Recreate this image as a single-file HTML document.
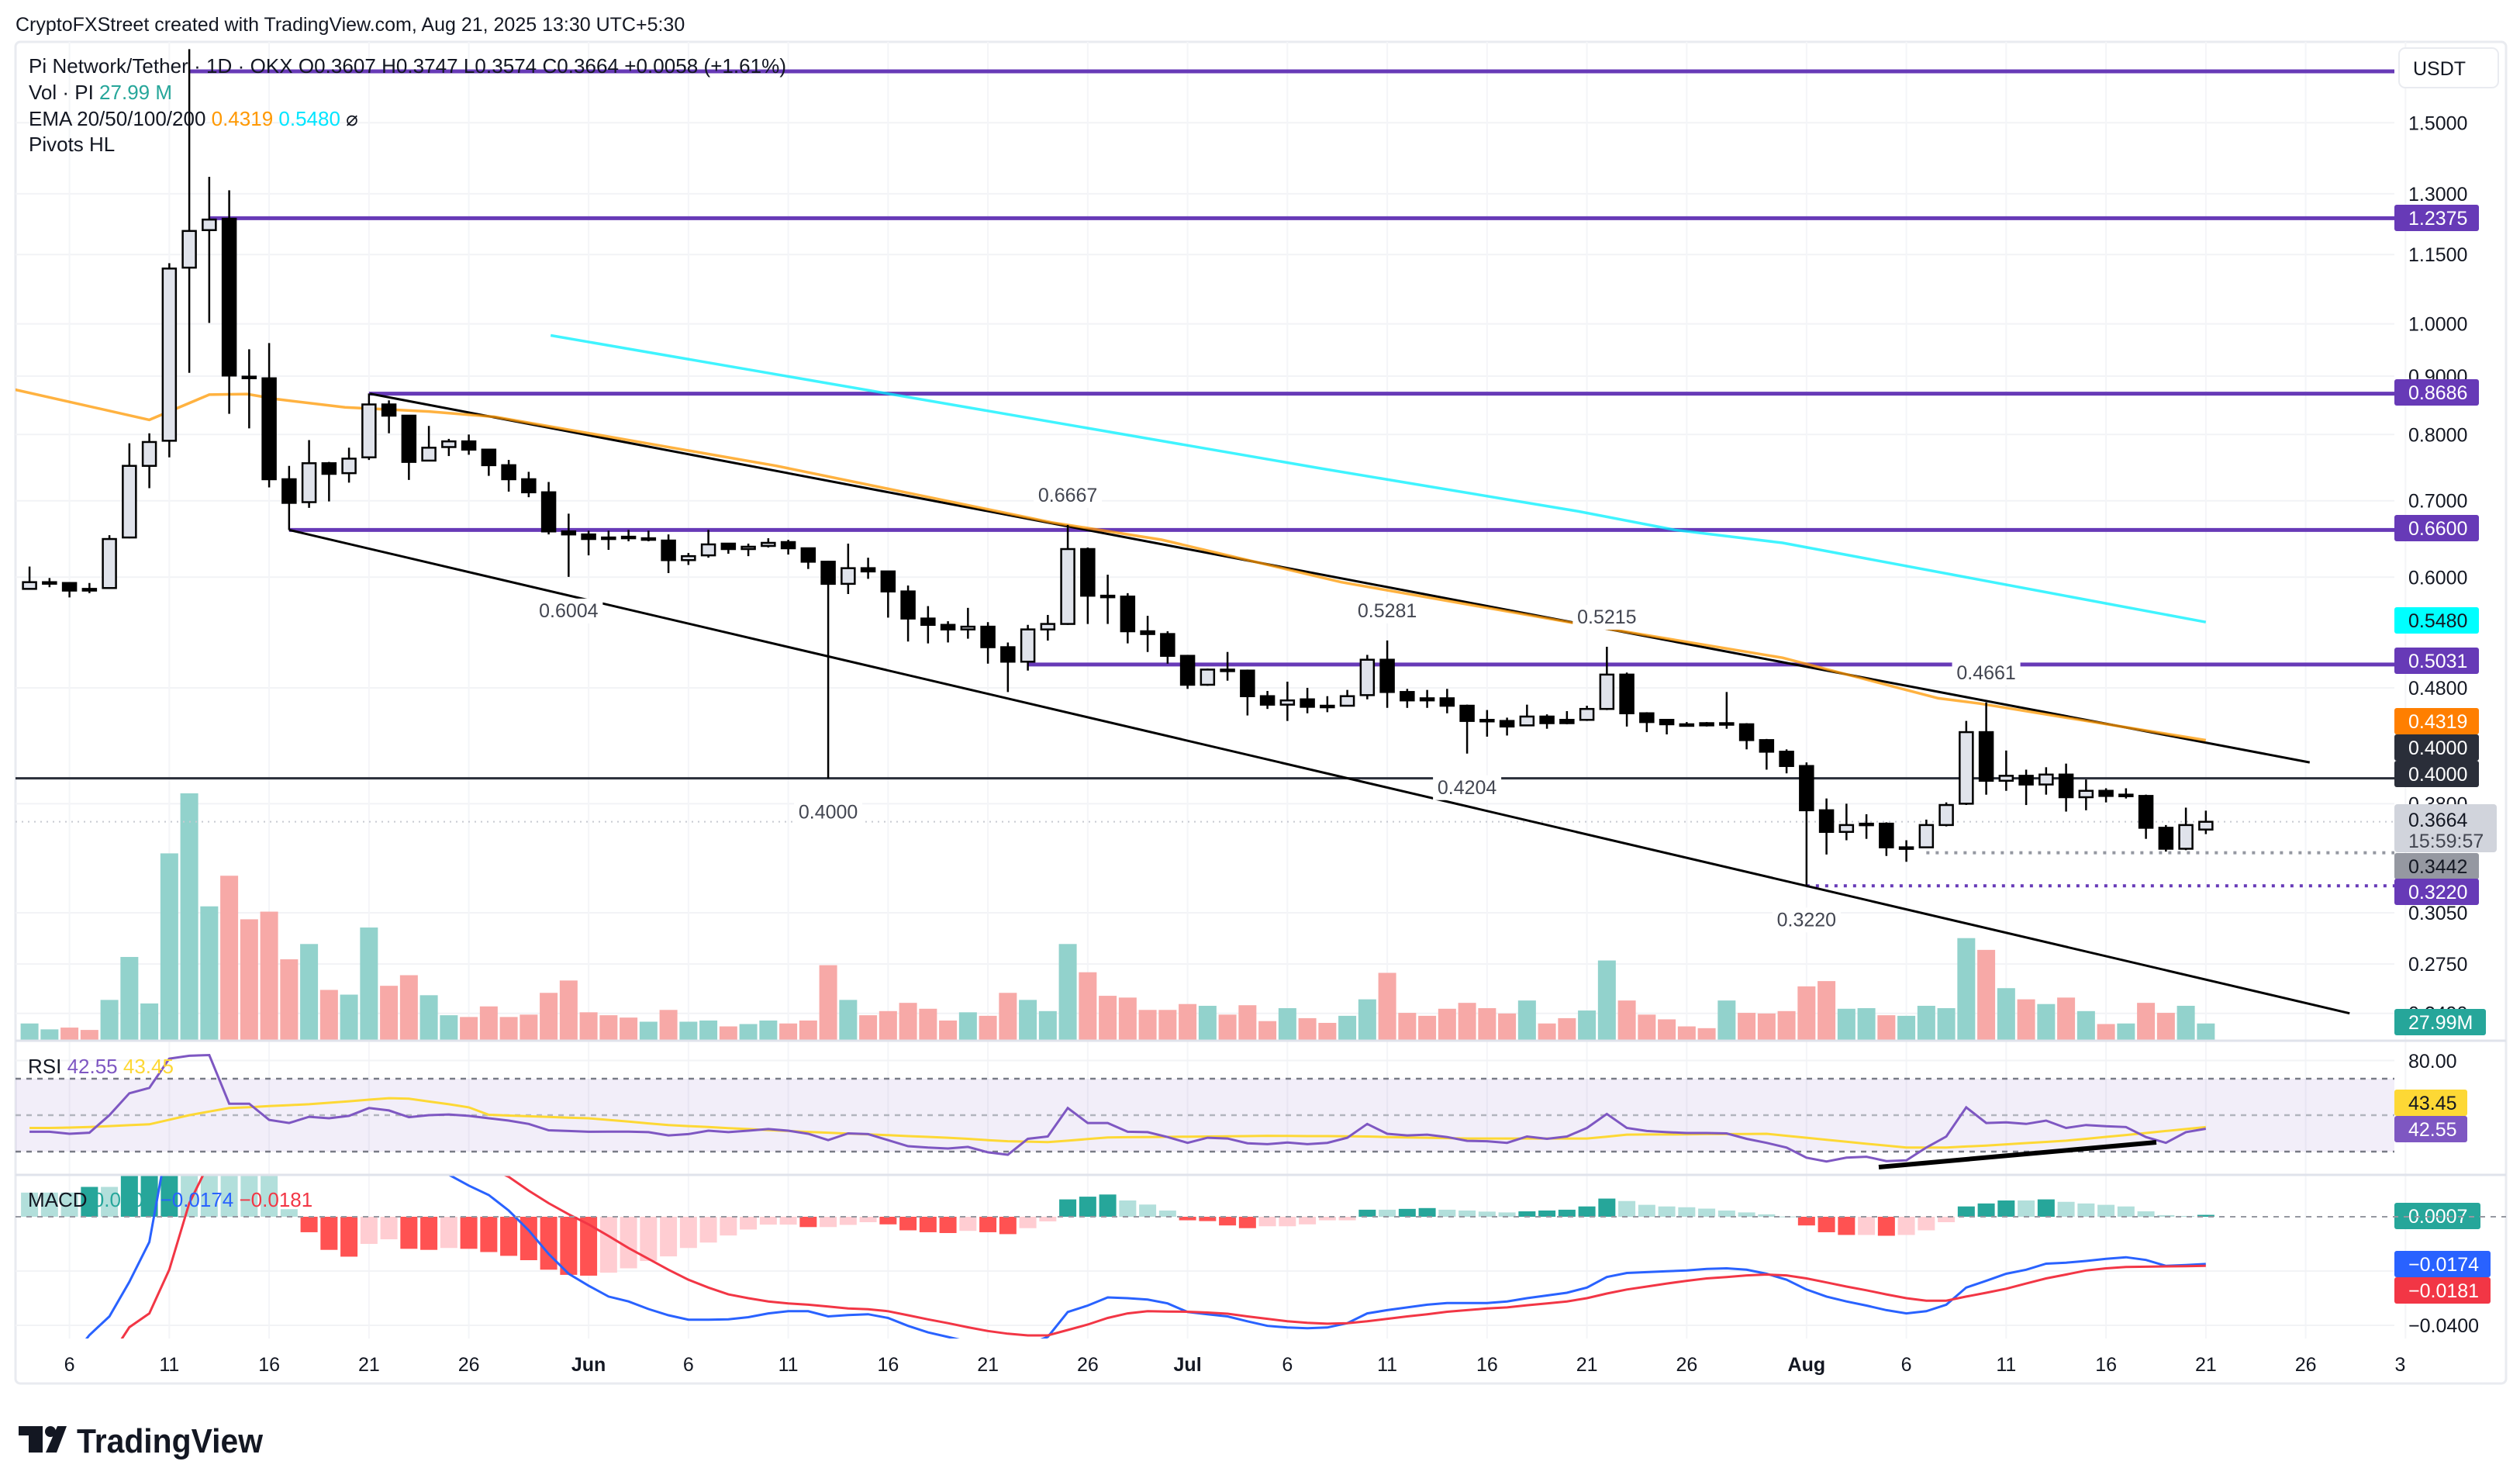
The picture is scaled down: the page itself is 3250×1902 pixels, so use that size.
<!DOCTYPE html>
<html><head><meta charset="utf-8">
<style>
html,body{margin:0;padding:0;background:#fff;}
svg{display:block;font-family:"Liberation Sans",sans-serif;}
</style></head>
<body>
<svg id="chart" width="3250" height="1902" viewBox="0 0 3250 1902" xmlns="http://www.w3.org/2000/svg">
<defs>
<clipPath id="cpMain"><rect x="20" y="54" width="3068" height="1287"/></clipPath>
<clipPath id="cpRsi"><rect x="20" y="1343" width="3068" height="171"/></clipPath>
<clipPath id="cpMacd"><rect x="20" y="1516" width="3068" height="210"/></clipPath>
<clipPath id="cpTime"><rect x="20" y="1726" width="3084" height="60"/></clipPath>
</defs>
<rect x="0" y="0" width="3250" height="1902" fill="#ffffff"/>
<text x="20" y="40" font-size="25" fill="#131722">CryptoFXStreet created with TradingView.com, Aug 21, 2025 13:30 UTC+5:30</text>
<rect x="20" y="54" width="3212" height="1730" fill="none" stroke="#e9ebf0" stroke-width="3" rx="6"/>
<g id="gGrid"></g>
<g id="gMain" clip-path="url(#cpMain)"></g>
<g id="gRsi" clip-path="url(#cpRsi)"></g>
<g id="gMacd" clip-path="url(#cpMacd)"></g>
<line x1="20" y1="1342" x2="3232" y2="1342" stroke="#e0e3eb" stroke-width="3"/>
<line x1="20" y1="1515" x2="3232" y2="1515" stroke="#e0e3eb" stroke-width="3"/>
<g id="gAxis"></g>
<g id="gTime" clip-path="url(#cpTime)"></g>
<g font-size="26" fill="#131722">
<text x="37" y="94" textLength="977" lengthAdjust="spacing">Pi Network/Tether · 1D · OKX  O0.3607  H0.3747  L0.3574  C0.3664  +0.0058 (+1.61%)</text>
<text x="37" y="128">Vol · PI  <tspan fill="#26a69a">27.99 M</tspan></text>
<text x="37" y="162">EMA 20/50/100/200  <tspan fill="#ff9800">0.4319</tspan>  <tspan fill="#00e5ff">0.5480</tspan>  ⌀</text>
<text x="37" y="195">Pivots HL</text>
<text x="36" y="1384">RSI  <tspan fill="#7e57c2">42.55</tspan>  <tspan fill="#fdd835">43.45</tspan></text>
<text x="36" y="1556">MACD  <tspan fill="#26a69a">0.0007</tspan>  <tspan fill="#2962ff">−0.0174</tspan>  <tspan fill="#f23645">−0.0181</tspan></text>
</g>
<g fill="#131722">
<rect x="24" y="1839" width="31" height="12"/>
<rect x="37" y="1839" width="18" height="34"/>
<circle cx="65" cy="1846" r="7"/>
<polygon points="74,1839 86,1839 73,1873 59,1873"/>
<text x="99" y="1873" font-size="44" font-weight="bold" textLength="240" lengthAdjust="spacingAndGlyphs">TradingView</text>
</g>
</svg>
<script>
// ---- data (day index 0 = May 6, first candle = day -2) ----
const openP=[0.586,0.594,0.593,0.586,0.587,0.650,0.751,0.790,1.120,1.208,1.236,0.899,0.896,0.731,0.698,0.755,0.740,0.764,0.850,0.831,0.759,0.780,0.789,0.776,0.752,0.731,0.712,0.658,0.654,0.650,0.651,0.649,0.646,0.621,0.627,0.642,0.635,0.639,0.644,0.636,0.619,0.592,0.611,0.607,0.583,0.552,0.545,0.540,0.543,0.521,0.506,0.540,0.546,0.635,0.578,0.577,0.538,0.535,0.512,0.483,0.498,0.497,0.472,0.464,0.469,0.463,0.463,0.473,0.508,0.476,0.470,0.470,0.463,0.450,0.449,0.445,0.453,0.450,0.450,0.460,0.493,0.456,0.450,0.446,0.447,0.447,0.446,0.432,0.422,0.410,0.375,0.359,0.365,0.365,0.348,0.348,0.364,0.380,0.439,0.398,0.402,0.395,0.403,0.385,0.390,0.387,0.386,0.362,0.347,0.3607];
const highP=[0.613,0.599,0.594,0.593,0.653,0.786,0.802,1.13,1.74,1.345,1.309,0.950,0.962,0.751,0.791,0.757,0.779,0.869,0.857,0.831,0.814,0.793,0.800,0.776,0.760,0.742,0.727,0.682,0.659,0.659,0.660,0.659,0.654,0.630,0.660,0.642,0.642,0.649,0.647,0.637,0.620,0.642,0.624,0.607,0.590,0.566,0.549,0.564,0.548,0.526,0.545,0.556,0.6667,0.637,0.603,0.581,0.555,0.538,0.513,0.499,0.516,0.498,0.477,0.486,0.480,0.472,0.478,0.513,0.5281,0.479,0.478,0.479,0.464,0.459,0.452,0.464,0.455,0.458,0.463,0.5215,0.495,0.457,0.450,0.448,0.448,0.476,0.447,0.433,0.424,0.413,0.384,0.380,0.372,0.366,0.353,0.368,0.381,0.449,0.4661,0.423,0.407,0.409,0.412,0.399,0.392,0.392,0.387,0.364,0.377,0.3747];
const lowP=[0.585,0.588,0.576,0.581,0.586,0.649,0.718,0.764,0.906,1.002,0.834,0.810,0.719,0.660,0.690,0.699,0.726,0.760,0.802,0.730,0.758,0.766,0.768,0.736,0.713,0.705,0.654,0.6004,0.627,0.634,0.645,0.645,0.605,0.615,0.624,0.629,0.626,0.637,0.628,0.610,0.400,0.580,0.598,0.553,0.527,0.525,0.526,0.530,0.504,0.476,0.497,0.528,0.545,0.546,0.546,0.525,0.516,0.504,0.479,0.482,0.487,0.454,0.460,0.449,0.456,0.457,0.463,0.469,0.461,0.461,0.461,0.456,0.4204,0.435,0.436,0.445,0.442,0.446,0.449,0.459,0.444,0.439,0.437,0.444,0.444,0.442,0.424,0.407,0.404,0.322,0.343,0.353,0.354,0.342,0.338,0.348,0.363,0.379,0.387,0.390,0.379,0.387,0.374,0.375,0.381,0.384,0.354,0.345,0.346,0.3574];
const closeP=[0.594,0.594,0.584,0.584,0.648,0.751,0.788,1.118,1.206,1.234,0.901,0.897,0.731,0.697,0.755,0.739,0.762,0.850,0.831,0.757,0.779,0.789,0.776,0.752,0.731,0.712,0.658,0.654,0.648,0.648,0.650,0.649,0.621,0.626,0.641,0.635,0.638,0.643,0.636,0.619,0.592,0.611,0.607,0.583,0.552,0.545,0.540,0.543,0.521,0.506,0.540,0.546,0.635,0.578,0.577,0.538,0.535,0.512,0.483,0.498,0.497,0.472,0.464,0.468,0.462,0.462,0.472,0.508,0.476,0.468,0.468,0.463,0.449,0.449,0.444,0.453,0.447,0.447,0.460,0.493,0.456,0.448,0.446,0.445,0.445,0.447,0.432,0.422,0.410,0.375,0.359,0.364,0.365,0.348,0.348,0.364,0.379,0.439,0.398,0.402,0.395,0.403,0.385,0.390,0.386,0.387,0.362,0.347,0.364,0.3664];
const volumeM=[28,18,21,17,68,141,62,317,419,227,279,205,218,137,163,85,77,191,92,110,76,42,39,57,39,43,80,101,47,42,38,31,51,31,33,23,27,33,28,33,127,68,42,49,63,53,33,47,41,80,68,49,163,115,75,72,51,51,61,58,43,59,32,54,37,29,41,69,114,46,41,53,63,54,45,67,28,37,50,135,67,43,35,23,20,67,46,45,49,91,100,53,54,42,41,58,54,173,153,88,69,61,72,49,27,28,63,46,58,27.99];
const rsiVals=[40.9,40.9,39.8,40.4,50,62,65,81,82.6,83,56.3,56.3,47.4,45.7,49.1,48.3,49.6,53.9,52.6,48.9,50,50.4,49.6,48.3,47,45.2,41.7,41.3,40.9,41,41,40.7,38.9,39.6,41.5,40.7,41.5,42.4,41.5,39.8,36.3,40,39.6,36.3,33,32.2,31.7,32.6,29.6,28.3,37,38.3,53.9,45.7,45.7,40.9,40.7,38,34.8,37.6,37.2,34.6,34.1,35,34.1,34.8,37.6,45.2,39.8,38.9,39.3,38,35.9,35.7,34.8,38.3,37,38.3,43,50.7,43,41.3,40.7,40.2,40.2,40,37,34.8,32.2,26.7,24.6,26.7,27.2,24.8,25.2,32.2,38.3,54.3,45.7,46.1,45.2,47,43,44.6,43.9,43.5,38,34.8,40.7,42.55];
const rsiMaVals=[43,43,43.2,43.5,44,44.5,45,47.5,50,52,53.9,54.4,55,55.5,56,56.8,57.6,58.5,59.3,59,57.5,56,54.3,50.2,49.8,49.4,49,48.6,48.3,47.4,46.5,45.5,44.6,44,43.5,42.9,42.4,41.8,41.3,40.8,40.4,39.9,39.5,39,38.5,38.1,37.6,37,36.3,35.7,35.5,35.2,36,36.9,37.8,37.9,38,38.1,38.2,38.3,38.4,38.5,38.7,38.6,38.5,38.5,38.4,38.3,38,37.8,37.6,37.4,37.2,37.2,37.2,37.2,37.2,37.2,37.2,38.2,39.3,39.4,39.4,39.5,39.6,39.6,39.7,39.8,38.7,37.6,36.5,35.4,34.3,33.3,32.2,32.2,32.2,32.8,33.3,34,34.7,35.3,36,37,38.1,39.1,40.2,41.3,42.4,43.45];
const macdVals=[-0.06,-0.058,-0.053,-0.0436,-0.0367,-0.024,-0.0093,0.031,0.06,0.085,0.09,0.088,0.08,0.07,0.058,0.05,0.042,0.037,0.032,0.026,0.02,0.0155,0.0115,0.008,0.0023,-0.005,-0.0137,-0.021,-0.0254,-0.0294,-0.0312,-0.034,-0.0363,-0.0379,-0.0379,-0.0378,-0.037,-0.0356,-0.0348,-0.0348,-0.0367,-0.0362,-0.0359,-0.0373,-0.0402,-0.0426,-0.0443,-0.046,-0.048,-0.049,-0.047,-0.0443,-0.0351,-0.0327,-0.0297,-0.03,-0.0305,-0.0319,-0.0351,-0.0359,-0.0367,-0.0385,-0.0402,-0.0408,-0.0411,-0.0408,-0.0392,-0.0356,-0.0344,-0.0334,-0.0324,-0.0318,-0.0318,-0.0318,-0.0312,-0.03,-0.029,-0.028,-0.0261,-0.0222,-0.0207,-0.0204,-0.0201,-0.0198,-0.0192,-0.019,-0.0195,-0.021,-0.0232,-0.0268,-0.0294,-0.0312,-0.0327,-0.0344,-0.0356,-0.0348,-0.0324,-0.0261,-0.0236,-0.021,-0.0195,-0.0173,-0.0169,-0.0163,-0.0155,-0.0149,-0.0159,-0.0181,-0.0178,-0.0174];
const signalVals=[-0.075,-0.072,-0.068,-0.062,-0.052,-0.0407,-0.0356,-0.0195,0.005,0.02,0.035,0.047,0.055,0.06,0.062,0.062,0.06,0.056,0.051,0.046,0.04,0.033,0.025,0.018,0.0147,0.0096,0.005,0.0009,-0.0028,-0.0071,-0.0115,-0.0155,-0.0195,-0.0232,-0.0261,-0.0286,-0.03,-0.0312,-0.0319,-0.0324,-0.0331,-0.0338,-0.0341,-0.0348,-0.0363,-0.0378,-0.0392,-0.0407,-0.0421,-0.0431,-0.0437,-0.0437,-0.0417,-0.0397,-0.0373,-0.0356,-0.0348,-0.0349,-0.035,-0.0353,-0.0357,-0.0367,-0.0376,-0.0385,-0.0391,-0.0394,-0.0392,-0.0385,-0.0376,-0.0367,-0.0359,-0.035,-0.0344,-0.0338,-0.0334,-0.0326,-0.0319,-0.0312,-0.03,-0.0283,-0.0268,-0.0257,-0.0246,-0.0236,-0.0227,-0.0222,-0.0216,-0.0213,-0.0216,-0.0227,-0.0242,-0.0257,-0.0271,-0.0286,-0.03,-0.0309,-0.0309,-0.0294,-0.028,-0.0265,-0.0246,-0.0227,-0.0213,-0.0198,-0.019,-0.0185,-0.0184,-0.0183,-0.0182,-0.0181];
const histVals=[0.0089,0.0089,0.0089,0.011,0.011,0.025,0.03,0.035,0.035,0.03,0.025,0.02,0.017,0.0028,-0.0057,-0.0122,-0.0147,-0.01,-0.0083,-0.0118,-0.0122,-0.0115,-0.0118,-0.013,-0.0144,-0.016,-0.0195,-0.0214,-0.0217,-0.0206,-0.019,-0.0163,-0.0146,-0.0115,-0.0095,-0.0069,-0.0047,-0.0029,-0.0029,-0.0038,-0.0038,-0.003,-0.002,-0.0028,-0.005,-0.0057,-0.006,-0.0052,-0.0057,-0.0064,-0.0042,-0.0017,0.0064,0.0074,0.0082,0.006,0.0045,0.0023,-0.0013,-0.0016,-0.0032,-0.0042,-0.0035,-0.0035,-0.0028,-0.0013,-0.0013,0.0026,0.0026,0.0029,0.0032,0.0026,0.0023,0.0019,0.0016,0.002,0.0023,0.0026,0.0038,0.0067,0.0058,0.0044,0.0038,0.0035,0.003,0.0023,0.0016,0.0009,0.0001,-0.0032,-0.0057,-0.0067,-0.0067,-0.007,-0.0067,-0.005,-0.002,0.0038,0.0049,0.006,0.006,0.0064,0.0055,0.0049,0.0044,0.0038,0.002,0.0006,0.0003,0.0007];
const ema50Days=[-2.75,4,7,8.9,10.4,13.8,18,21.3,35.4,49.2,54.7,63.7,75.6,85.8,93.6,95.7,100,107];
const ema50Vals=[0.876,0.824,0.867,0.868,0.859,0.845,0.838,0.829,0.751,0.670,0.647,0.594,0.546,0.510,0.470,0.465,0.452,0.4319];
const ema200Days=[24.1,62.7,75.6,80.4,85.8,107];
const ema200Vals=[0.977,0.747,0.685,0.660,0.643,0.548];
const priceTicks=[1.5,1.3,1.15,1.0,0.9,0.8,0.7,0.6,0.48,0.38,0.305,0.275,0.249];
const priceTickLabels=['1.5000','1.3000','1.1500','1.0000','0.9000','0.8000','0.7000','0.6000','0.4800','0.3800','0.3050','0.2750','0.2490'];
const timeTickDays=[0,5,10,15,20,26,31,36,41,46,51,56,61,66,71,76,81,87,92,97,102,107,112,117];
const timeTickLabels=['6','11','16','21','26','Jun','6','11','16','21','26','Jul','6','11','16','21','26','Aug','6','11','16','21','26','31'];
const pivotDays=[25,50,66,77,96,38,70,87];
const pivotPrices=[0.6004,0.6667,0.5281,0.5215,0.4661,0.4000,0.4204,0.3220];
const pivotIsHigh=[false,true,true,true,true,false,false,false];

// ---- axes ----
const FIRST_DAY=-2;
function xOf(d){return 89.6+25.75*d;}
function yP(p){return 158.3+(Math.log(1.5)-Math.log(p))*639.5;}
function yV(v){return 1341-v/419*318;}
function yR(r){return 1438-(r-50)*2.35;}
function yM(v){return 1569-v*3500;}

const NS='http://www.w3.org/2000/svg';
function mk(tag,attrs,parent){const e=document.createElementNS(NS,tag);for(const k in attrs)e.setAttribute(k,attrs[k]);parent.appendChild(e);return e;}
const svgRoot=document.getElementById('chart');
const gGrid=document.getElementById('gGrid');
const gMain=document.getElementById('gMain');
const gRsi=document.getElementById('gRsi');
const gMacd=document.getElementById('gMacd');
const gAxis=document.getElementById('gAxis');
const gTime=document.getElementById('gTime');

// grid
priceTicks.forEach(p=>{
  const ln=mk('line',{x1:20,x2:3088,y1:yP(p),y2:yP(p),stroke:'#f2f3f6','stroke-width':2},gGrid);
  
  
});
timeTickDays.forEach(d=>{
  const ln=mk('line',{x1:xOf(d),x2:xOf(d),y1:54,y2:1726,stroke:'#f4f5f8','stroke-width':2},gGrid);
  
  
});
[80,-0.02,-0.04].forEach((v,k)=>{
  const y=k===0?yR(v):yM(v);
  const ln=mk('line',{x1:20,x2:3088,y1:y,y2:y,stroke:'#f2f3f6','stroke-width':2},gGrid);
  
  
});

// volume
volumeM.forEach((v,i)=>{
  const up=closeP[i]>=openP[i];
  const r=mk('rect',{x:xOf(i+FIRST_DAY)-11.5,y:yV(v),width:23,height:1341-yV(v),fill:up?'#92d2cc':'#f7a9a7'},gMain);
  
  
});

// horizontal levels
function hline(p,d0,color,w,dash,name){
  const l=mk('line',{x1:d0===null?20:xOf(d0),x2:3088,y1:yP(p),y2:yP(p),stroke:color,'stroke-width':w},gMain);
  if(dash)l.setAttribute('stroke-dasharray',dash);
  
  
}
hline(1.664,6,'#673ab7',5,null,'level-1-664');
hline(1.2375,7,'#673ab7',5,null,'level-1-2375');
hline(0.8686,15,'#673ab7',5,null,'level-0-8686');
hline(0.66,11,'#673ab7',5,null,'level-0-66');
hline(0.5031,48,'#673ab7',5,null,'level-0-5031');
hline(0.4,null,'#2a2e39',3,null,'level-0-4000');
hline(0.3664,null,'#c8cad1',2,'2 6','current-price-line');
hline(0.3442,93,'#9598a1',4,'4 8','level-0-3442');
hline(0.322,87,'#673ab7',4,'4 8','level-0-3220');

// channel trend lines
const chUp=mk('line',{x1:xOf(15.05),y1:yP(0.8686),x2:xOf(112.2),y2:yP(0.413),stroke:'#000','stroke-width':3},gMain);


const chLo=mk('line',{x1:xOf(11),y1:yP(0.66),x2:xOf(114.2),y2:yP(0.249),stroke:'#000','stroke-width':3},gMain);



// EMAs
function pathFrom(days,vals,yf){return days.map((d,i)=>(i?'L':'M')+xOf(d).toFixed(1)+' '+yf(vals[i]).toFixed(1)).join(' ');}
const e50=mk('path',{d:pathFrom(ema50Days,ema50Vals,yP),fill:'none',stroke:'rgba(255,152,0,0.75)','stroke-width':3.5},gMain);


const e200=mk('path',{d:pathFrom(ema200Days,ema200Vals,yP),fill:'none',stroke:'rgba(0,240,255,0.75)','stroke-width':3.5},gMain);



// candles
openP.forEach((o,i)=>{
  const d=i+FIRST_DAY,x=xOf(d),c=closeP[i],up=c>=o;
  const w=mk('line',{x1:x,x2:x,y1:yP(highP[i]),y2:yP(lowP[i]),stroke:'#000','stroke-width':2.5},gMain);
  
  
  const t=Math.min(yP(o),yP(c)),h=Math.max(Math.abs(yP(o)-yP(c)),2);
  const b=mk('rect',{x:x-8.5,y:t,width:17,height:h,fill:up?'#e0e3eb':'#000',stroke:'#000','stroke-width':2.5},gMain);
  
  
});

// pivot labels
pivotDays.forEach((d,i)=>{
  const y=yP(pivotPrices[i])+(pivotIsHigh[i]?-30:52);
  const bg=mk('rect',{x:xOf(d)-44,y:y-24,width:88,height:32,fill:'#fff'},gMain);
  
  
  const t=mk('text',{x:xOf(d),y:y,'text-anchor':'middle','font-size':25,fill:'#434651'},gMain);
  t.textContent=pivotPrices[i].toFixed(4);
  
  
});

// RSI
const band=mk('rect',{x:20,y:yR(70),width:3068,height:yR(30)-yR(70),fill:'rgba(126,87,194,0.1)'},gRsi);


[[70,'#787b86','7 7'],[50,'#b2b5be','7 7'],[30,'#787b86','7 7']].forEach(a=>{
  const l=mk('line',{x1:20,x2:3088,y1:yR(a[0]),y2:yR(a[0]),stroke:a[1],'stroke-width':2.5,'stroke-dasharray':a[2]},gRsi);
  
  
});
const rsiDays=rsiVals.map((v,i)=>i+FIRST_DAY);
const rsiMa=mk('path',{d:pathFrom(rsiDays,rsiMaVals,yR),fill:'none',stroke:'#fdd835','stroke-width':3},gRsi);


const rsiL=mk('path',{d:pathFrom(rsiDays,rsiVals,yR),fill:'none',stroke:'#7e57c2','stroke-width':3},gRsi);


const div=mk('line',{x1:2423,y1:1505,x2:2781,y2:1473,stroke:'#000','stroke-width':6},gRsi);



// MACD
const zl=mk('line',{x1:20,x2:3232,y1:yM(0),y2:yM(0),stroke:'#9598a1','stroke-width':2,'stroke-dasharray':'7 7'},svgRoot);


histVals.forEach((v,i)=>{
  const prev=i>0?histVals[i-1]:v;
  let col;
  if(v>=0)col=v>prev?'#26a69a':'#b2dfdb';else col=v<prev?'#ff5252':'#ffcdd2';
  const y0=yM(0),y1=yM(v);
  const r=mk('rect',{x:xOf(i+FIRST_DAY)-11,y:Math.min(y0,y1),width:22,height:Math.max(Math.abs(y1-y0),1),fill:col},gMacd);
  
  
});
const macdL=mk('path',{d:pathFrom(rsiDays,macdVals,yM),fill:'none',stroke:'#2962ff','stroke-width':3},gMacd);


const sigL=mk('path',{d:pathFrom(rsiDays,signalVals,yM),fill:'none',stroke:'#f23645','stroke-width':3},gMacd);



// price axis labels
const usdt=mk('rect',{x:3094,y:62,width:128,height:51,rx:8,fill:'#fff',stroke:'#e9ebf0','stroke-width':2},gAxis);


const ut=mk('text',{x:3112,y:97,'font-size':25,fill:'#131722'},gAxis);
ut.textContent='USDT';


priceTicks.forEach((p,i)=>{
  const t=mk('text',{x:3106,y:yP(p)+9,'font-size':25,fill:'#131722'},gAxis);
  t.textContent=priceTickLabels[i];
  
  
});
[[1368,'80.00'],[1709,'−0.0400']].forEach(a=>{
  const t=mk('text',{x:3106,y:a[0]+9,'font-size':25,fill:'#131722'},gAxis);
  t.textContent=a[1];
  
  
});
function badge(cy,text,bg,fg,w,name){
  const r=mk('rect',{x:3088,y:cy-17,width:w,height:34,rx:3,fill:bg},gAxis);
  
  
  const t=mk('text',{x:3106,y:cy+9,'font-size':25,fill:fg},gAxis);
  t.textContent=text;
  
  
}
badge(281,'1.2375','#673ab7','#fff',109,'level-1-2375');
badge(506,'0.8686','#673ab7','#fff',109,'level-0-8686');
badge(681,'0.6600','#673ab7','#fff',109,'level-0-6600');
badge(800,'0.5480','#00ffff','#131722',109,'ema-200');
badge(852,'0.5031','#673ab7','#fff',109,'level-0-5031');
badge(930,'0.4319','#ff7f00','#fff',109,'ema-50');
badge(964,'0.4000','#2a2e39','#fff',109,'level-0-4000-a');
badge(998,'0.4000','#2a2e39','#fff',109,'level-0-4000-b');
const cur=mk('rect',{x:3088,y:1037,width:132,height:62,rx:4,fill:'#d1d4dc'},gAxis);


const ct=mk('text',{x:3106,y:1066,'font-size':25,fill:'#131722'},gAxis);
ct.textContent='0.3664';


const cd=mk('text',{x:3106,y:1093,'font-size':25,fill:'#434651'},gAxis);
cd.textContent='15:59:57';


badge(1117,'0.3442','#9598a1','#131722',109,'level-0-3442');
badge(1150,'0.3220','#673ab7','#fff',109,'level-0-3220');
badge(1318,'27.99M','#26a69a','#fff',118,'volume');
badge(1422,'43.45','#fdd835','#131722',94,'rsi-ma');
badge(1456,'42.55','#7e57c2','#fff',94,'rsi');
badge(1568,'0.0007','#26a69a','#fff',111,'macd-histogram');
badge(1630,'−0.0174','#2962ff','#fff',124,'macd');
badge(1664,'−0.0181','#f23645','#fff',124,'signal');

// time axis
timeTickDays.forEach((d,i)=>{
  const bold=isNaN(parseInt(timeTickLabels[i]));
  const t=mk('text',{x:xOf(d),y:1768,'text-anchor':'middle','font-size':25,fill:'#131722','font-weight':bold?'bold':'normal'},gTime);
  t.textContent=timeTickLabels[i];
  
  
});
</script>
</body></html>
